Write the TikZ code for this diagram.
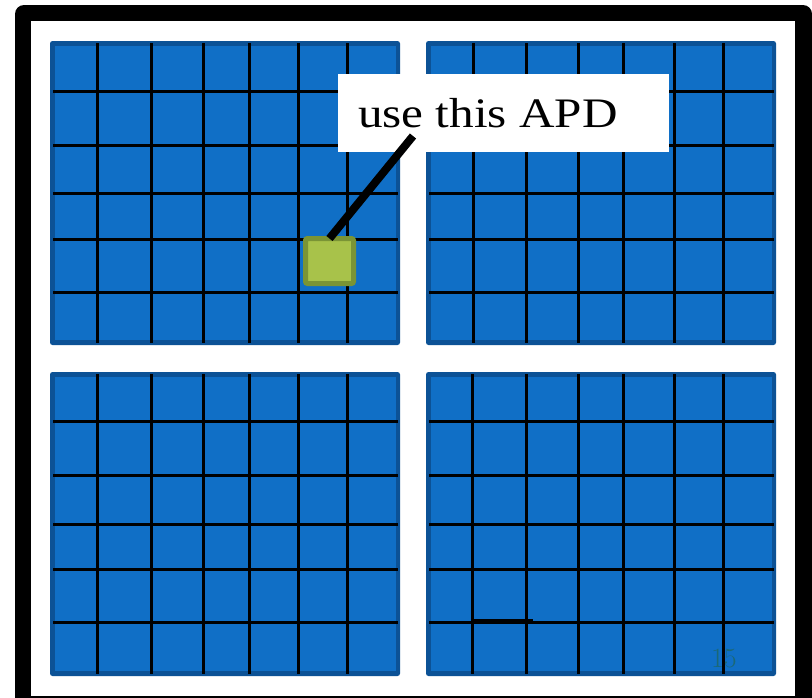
\documentclass[tikz,border=0pt]{standalone}
\usepackage{fontspec}
\newfontfamily\labelfont[FakeStretch=1.17]{Liberation Serif}
\definecolor{panelfill}{RGB}{16,111,198}
\definecolor{paneledge}{RGB}{12,82,150}
\definecolor{apdfill}{RGB}{168,194,74}
\definecolor{apdedge}{RGB}{122,148,53}
\definecolor{numcol}{RGB}{26,104,118}
\tikzset{
  gridline/.style={line width=3pt, black},
  panelouter/.style={fill=paneledge, rounded corners=2.5pt},
  panelinner/.style={fill=panelfill},
  apdbox/.style={draw=apdedge, fill=apdfill, line width=5pt, rounded corners=2pt,
    minimum width=48pt, minimum height=45pt, inner sep=0pt, outer sep=0pt},
  labelbox/.style={fill=white, minimum width=331pt, minimum height=78pt, inner sep=0pt, outer sep=0pt},
  pointer/.style={line width=8pt, black},
}
\begin{document}
\begin{tikzpicture}[x=1pt,y=-1pt]
\useasboundingbox (0,0) rectangle (812,697);
\clip (0,0) rectangle (812,697);
% outer frame
\fill[black, rounded corners=9pt] (15,5) rectangle (812,735);
\fill[white] (31,21) rectangle (795,695.5);
% panels
\foreach \px/\py/\cols/\rows in {
  50/41/{97.7,151,203.3,249,298.3,347.3}/{91.7,145,193.3,239,292.7},
  426/41/{473.3,526,578.3,623.3,674,723.3}/{91.7,145,193.3,239,292.7},
  50/372/{97.7,151,203.3,249,298.3,347.3}/{421.7,475,524,569,622.7},
  426/372/{472.7,526,578.3,623.3,674,723.3}/{421.7,475,524,569,622.7}}{
  \fill[panelouter] (\px,\py) rectangle ++(350,304);
  \fill[panelinner] ({\px+5},{\py+5}) rectangle ({\px+345.5},{\py+299});
  \foreach \c in \cols { \draw[gridline] (\c,{\py+2}) -- (\c,{\py+301.5}); }
  \foreach \r in \rows { \draw[gridline] ({\px+3},\r) -- ({\px+347.5},\r); }
}
% small extra segment in lower right panel
\draw[gridline] (473,620.6) -- (533,620.6);
% highlighted APD
\node[apdbox] (apd) at (329.5,261) {};
% label
\node[labelbox, anchor=north west] (label) at (338,74) {};
\node[anchor=base west, inner sep=0pt, font=\labelfont\fontsize{42}{48}\selectfont] (labeltext) at (358,127) {use this APD};
\coordinate (ptr) at (413,136);
\draw[pointer] (ptr) -- (apd.north);
% page number
\node[anchor=base west, inner sep=0pt, text=numcol] (pagenum) at (711,667) {\scalebox{1.12}{\fontsize{24.88}{28}\selectfont\oldstylenums{15}}};
\end{tikzpicture}
\end{document}
